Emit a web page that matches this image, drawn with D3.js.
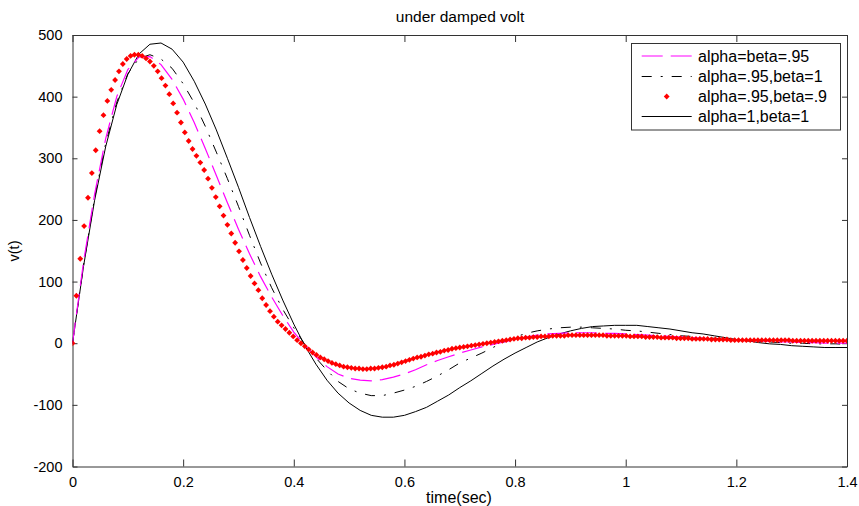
<!DOCTYPE html>
<html><head><meta charset="utf-8">
<script src="https://cdn.jsdelivr.net/npm/d3@7/dist/d3.min.js"></script>
<style>
html,body{margin:0;padding:0;background:#fff;}
text{font-family:"Liberation Sans",Arial,sans-serif;fill:#000;}
</style></head>
<body>
<svg id="chart" width="859" height="506"></svg>
<script>
// ---------------- data ----------------
const xTicks = [0, 0.2, 0.4, 0.6, 0.8, 1, 1.2, 1.4];
const xTickLabels = ["0", "0.2", "0.4", "0.6", "0.8", "1", "1.2", "1.4"];
const yTicks = [-200, -100, 0, 100, 200, 300, 400, 500];
const yTickLabels = ["-200", "-100", "0", "100", "200", "300", "400", "500"];
const seriesNames = ["alpha=beta=.95", "alpha=.95,beta=1", "alpha=.95,beta=.9", "alpha=1,beta=1"];

// line series sampled every 0.02 s
const lineStep = 0.02;
const magentaVals = [0,132,242,332,400,444,464,465,452,428,396,358,316,272,228,185,145,108,75,45,18,-3,-22,-38,-50,-57,-60,-61,-59,-55,-50,-43,-35,-28,-22,-16,-11,-6,-2,2,6,10,13,15,16,17,17,17,16,16,15,14,13,12,11,10,9,8,7,6,5,4,4,3,2,2,1,1,0,0,0];
const dashDotVals = [0,127,236,324,391,437,462,468,461,446,421,390,352,310,267,222,175,130,90,55,25,-2,-24,-44,-62,-74,-81,-85,-85,-81,-76,-70,-62,-53,-43,-32,-24,-16,-7,2,10,16,20,23,25,26,26,25,24,23,21,20,18,16,14,12,11,9,8,7,5,4,3,2,1,0,0,-1,-1,-1,-2];
const solidVals = [0,125,232,319,387,436,469,485,487,477,456,425,388,346,300,253,204,157,112,70,31,-4,-34,-60,-81,-97,-109,-117,-120,-120,-117,-111,-104,-94,-84,-72,-61,-49,-37,-26,-16,-7,2,9,15,20,24,27,28,29,29,29,27,25,23,20,17,15,12,9,6,4,1,-1,-2,-4,-5,-6,-7,-7,-7];

// red marker series sampled every 0.007 s
const redStep = 0.007;
const redVals = [0,77,137,190,236,276,313,344,370,393,411,427,441,453,461,466,468,468,466,462,
457,450,441,430,418,404,389,374,358,342,328,315,304,293,281,267,252,237,222,207,
192,178,163,149,135,122,109,97,86,73,62,52,43,35,29,23,17,11,5,0,
-5,-10,-15,-19,-23,-26,-29,-32,-34,-36,-38,-39,-40,-41,-41,-42,-42,-41,-41,-40,
-39,-38,-36,-35,-33,-31,-29,-27,-25,-23,-22,-20,-18,-17,-15,-14,-12,-11,-9,-8,
-7,-6,-5,-4,-3,-2,-1,0,1,2,3,4,5,6,7,8,8,9,9,10,
10,11,11,11,12,12,12,12,13,13,13,13,13,13,13,13,13,13,12,12,
12,12,12,12,11,11,11,11,10,10,10,10,9,9,9,9,8,8,8,8,
7,7,7,7,7,6,6,6,6,6,5,5,5,5,5,5,5,5,5,5,
5,5,5,5,5,5,4,4,4,4,4,4,4,4,4,4,4,4,4,4,4];

// ---------------- chart ----------------
const svg = d3.select("#chart");
const mLeft = 72.5, mRight = 847, mTop = 35, mBottom = 466.5;
const x = d3.scaleLinear().domain([0, 1.4]).range([mLeft, mRight]);
const y = d3.scaleLinear().domain([-200, 500]).range([mBottom, mTop]);
const frameColor = "#333";

svg.append("rect").attr("width", 859).attr("height", 506).attr("fill", "#fff");

svg.append("defs").append("clipPath").attr("id", "clip")
  .append("rect").attr("x", mLeft).attr("y", mTop).attr("width", mRight - mLeft).attr("height", mBottom - mTop);

// axes (inward ticks, mirrored box)
const axB = d3.axisBottom(x).tickValues(xTicks).tickFormat((d, i) => xTickLabels[i]).tickSizeInner(-7).tickSizeOuter(0).tickPadding(10);
const axT = d3.axisTop(x).tickValues(xTicks).tickFormat("").tickSizeInner(-7).tickSizeOuter(0);
const axL = d3.axisLeft(y).tickValues(yTicks).tickFormat((d, i) => yTickLabels[i]).tickSizeInner(-5).tickSizeOuter(0).tickPadding(10);
const axR = d3.axisRight(y).tickValues(yTicks).tickFormat("").tickSizeInner(-5).tickSizeOuter(0);

function styleAxis(g) {
  g.select(".domain").attr("stroke", frameColor).attr("stroke-width", 1);
  g.selectAll(".tick line").attr("stroke", frameColor).attr("stroke-width", 1);
  g.selectAll(".tick text").attr("font-size", 14.5).attr("fill", "#000")
    .style("font-family", '"Liberation Sans", Arial, sans-serif');
}
svg.append("g").attr("transform", `translate(0,${mBottom})`).call(axB).call(styleAxis);
svg.append("g").attr("transform", `translate(0,${mTop})`).call(axT).call(styleAxis);
svg.append("g").attr("transform", `translate(${mLeft},0)`).call(axL).call(styleAxis);
svg.append("g").attr("transform", `translate(${mRight},0)`).call(axR).call(styleAxis);

// curves
const plot = svg.append("g").attr("clip-path", "url(#clip)");
const line = d3.line().x(d => x(d[0])).y(d => y(d[1]));
const toPts = (vals, step) => vals.map((v, i) => [i * step, v]);

plot.append("path").datum(toPts(solidVals, lineStep)).attr("d", line)
  .attr("fill", "none").attr("stroke", "#000").attr("stroke-width", 1);
plot.append("path").datum(toPts(dashDotVals, lineStep)).attr("d", line)
  .attr("fill", "none").attr("stroke", "#000").attr("stroke-width", 1).attr("stroke-dasharray", "10,9,2,9");
plot.append("path").datum(toPts(magentaVals, lineStep)).attr("d", line)
  .attr("fill", "none").attr("stroke", "#ff00ff").attr("stroke-width", 1.2).attr("stroke-dasharray", "21,8");

const sym = d3.symbol().type(d3.symbolSquare).size(17);
plot.selectAll("path.red").data(toPts(redVals, redStep)).join("path").attr("class", "red")
  .attr("d", sym)
  .attr("transform", d => `translate(${x(d[0])},${y(d[1])}) rotate(45)`)
  .attr("fill", "#ff0000");

// labels
svg.append("text").attr("x", 460).attr("y", 22).attr("text-anchor", "middle").attr("font-size", 15.5).text("under damped volt");
svg.append("text").attr("x", 459).attr("y", 503).attr("text-anchor", "middle").attr("font-size", 16).text("time(sec)");
svg.append("text").attr("transform", "translate(19,251) rotate(-90)").attr("text-anchor", "middle").attr("font-size", 14.5).text("v(t)");

// legend
const lg = svg.append("g");
lg.append("rect").attr("x", 631.5).attr("y", 43.5).attr("width", 209).attr("height", 86.5)
  .attr("fill", "#fff").attr("stroke", frameColor).attr("stroke-width", 1);
const rowsY = [56, 76.5, 96.5, 116.5];
const lx0 = 641.7, lx1 = 691.7;
lg.append("line").attr("x1", lx0).attr("x2", lx1).attr("y1", rowsY[0]).attr("y2", rowsY[0])
  .attr("stroke", "#ff00ff").attr("stroke-width", 1.2).attr("stroke-dasharray", "21,8");
lg.append("line").attr("x1", lx0).attr("x2", lx1).attr("y1", rowsY[1]).attr("y2", rowsY[1])
  .attr("stroke", "#000").attr("stroke-width", 1).attr("stroke-dasharray", "10,9,2,9");
lg.append("path").attr("d", sym).attr("transform", `translate(${(lx0 + lx1) / 2},${rowsY[2]}) rotate(45)`).attr("fill", "#ff0000");
lg.append("line").attr("x1", lx0).attr("x2", lx1).attr("y1", rowsY[3]).attr("y2", rowsY[3])
  .attr("stroke", "#000").attr("stroke-width", 1);
seriesNames.forEach((n, i) => {
  lg.append("text").attr("x", 698).attr("y", rowsY[i] + 5.5).attr("font-size", 16).text(n);
});
</script>
</body></html>
